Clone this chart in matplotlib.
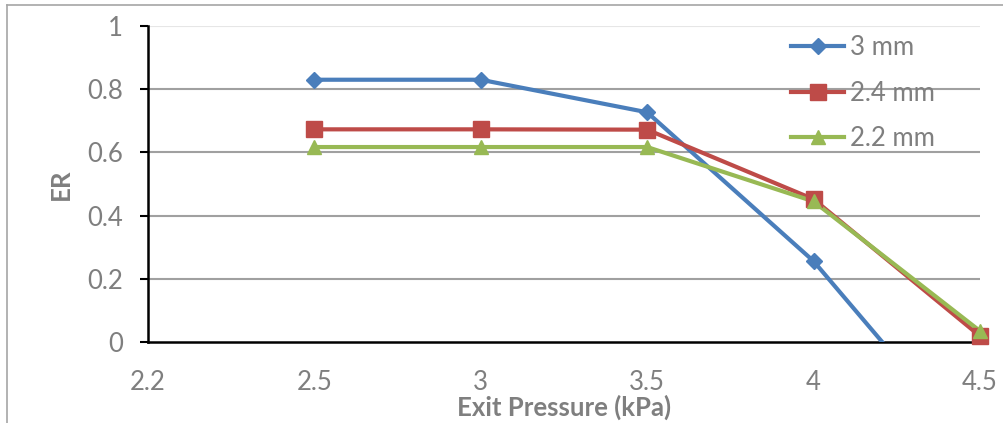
import matplotlib.pyplot as plt
from matplotlib.lines import Line2D

# exit pressure categories (kPa) and ER for each nozzle size
pressures = ['2.2', '2.5', '3', '3.5', '4', '4.5']
er_3mm = [None, 0.83, 0.83, 0.727, 0.256, -0.364]
er_24mm = [None, 0.673, 0.673, 0.672, 0.452, 0.019]
er_22mm = [None, 0.617, 0.617, 0.617, 0.445, 0.035]

series = [
    ('3 mm', er_3mm, '#4a7ebb', 'D', 8),
    ('2.4 mm', er_24mm, '#be4b48', 's', 11),
    ('2.2 mm', er_22mm, '#98b954', '^', 10.5),
]

plt.rcParams['font.family'] = ['Lato', 'DejaVu Sans']
grey = '#7f7f7f'

fig = plt.figure(figsize=(10.04, 4.23), dpi=100)
ax = fig.add_axes([0.1474, 0.1915, 0.8286, 0.747])

x = list(range(len(pressures)))
for name, vals, col, mk, ms in series:
    xs = [i for i, v in zip(x, vals) if v is not None]
    ys = [v for v in vals if v is not None]
    # line is clipped at the axis, markers may sit on the edge
    ax.plot(xs, ys, color=col, lw=3, zorder=3)
    mx = [a for a, b in zip(xs, ys) if b >= 0]
    my = [b for b in ys if b >= 0]
    ax.plot(mx, my, ls='none', marker=mk, markersize=ms, color=col,
            clip_on=False, zorder=4)
    ax.plot([], [], color=col, lw=3, marker=mk, markersize=ms, label=name)

ax.set_xlim(0, 5)
ax.set_ylim(0, 1)
ax.set_xticks(x)
ax.set_xticklabels(pressures)
ax.set_yticks([0, 0.2, 0.4, 0.6, 0.8, 1])
ax.set_yticklabels(['0', '0.2', '0.4', '0.6', '0.8', '1'])
ax.tick_params(axis='x', length=0, pad=20, labelsize=18.5, labelcolor=grey)
ax.tick_params(axis='y', length=6, width=1.5, pad=12, labelsize=18.5,
               labelcolor=grey, color='black')

for y in [0.2, 0.4, 0.6, 0.8]:
    ax.axhline(y, color='#a0a0a0', lw=1.5, zorder=1)
ax.axhline(1, color='#e6e6e6', lw=1.5, zorder=1)

for side in ['top', 'right']:
    ax.spines[side].set_visible(False)
ax.spines['left'].set_linewidth(1.8)
ax.spines['bottom'].set_linewidth(1.8)

ax.set_xlabel('Exit Pressure (kPa)', fontsize=18.5, fontweight='bold',
              color=grey, labelpad=0)
ax.set_ylabel('ER', fontsize=18.5, fontweight='bold', color=grey, labelpad=10)

ax.legend(loc='upper left', bbox_to_anchor=(0.76, 1.003), frameon=False,
          fontsize=18.5, labelcolor=grey, handlelength=2.1, handletextpad=0.2,
          labelspacing=0.8, borderaxespad=0.0)

# outer chart border
fig.add_artist(Line2D([7 / 1004, 1], [1 - 5 / 423, 1 - 5 / 423],
                      color='#a6a6a6', lw=1.2))
fig.add_artist(Line2D([7 / 1004, 7 / 1004], [0, 1 - 5 / 423],
                      color='#a6a6a6', lw=1.2))

fig.savefig('out.png', dpi=100)
